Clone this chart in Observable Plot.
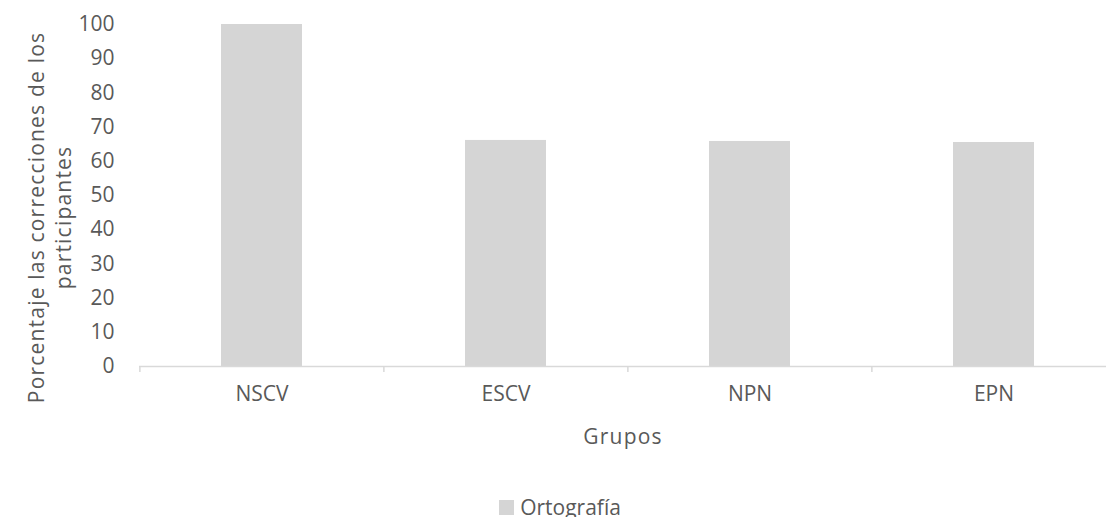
<!DOCTYPE html>
<html>
<head>
<meta charset="utf-8">
<script src="https://cdn.jsdelivr.net/npm/d3@7"></script>
<script src="https://cdn.jsdelivr.net/npm/@observablehq/plot@0.6"></script>
<style>
  html, body { margin: 0; padding: 0; background: #fff; overflow: hidden; width: 1106px; height: 517px; }
  #legend { font-family: "Open Sans", sans-serif; font-size: 21px; color: #595959; display: flex; justify-content: center; align-items: center; height: 28px; }
  #legend .sw { display: inline-block; width: 15px; height: 15px; background: #d5d5d5; margin-right: 6px; margin-left: 14px; }
  .ytitle text, .xtitle text { letter-spacing: 1.2px; }
</style>
</head>
<body>
<div id="chart"></div>
<div id="legend"></div>
<script>
const groups = ["NSCV", "ESCV", "NPN", "EPN"];
const ortografia = [100, 66.1, 65.8, 65.5];
const yTicks = [0, 10, 20, 30, 40, 50, 60, 70, 80, 90, 100];
const seriesName = "Ortografía";
const xTitle = "Grupos";
const yTitle = "Porcentaje las correcciones de los\nparticipantes";

const data = groups.map((g, i) => ({group: g, value: ortografia[i]}));

const W = 1106, H = 493;
const xRange = [139, 1116];
const step = (xRange[1] - xRange[0]) / groups.length;
const textColor = "#595959";

const chart = Plot.plot({
  width: W,
  height: H,
  marginTop: 24,
  marginBottom: 127,
  marginLeft: 139,
  marginRight: 0,
  style: {fontFamily: "'Open Sans', sans-serif", fontSize: "21px", color: textColor, background: "#fff", overflow: "visible"},
  x: {domain: groups, range: xRange, paddingInner: 0.668, paddingOuter: 0.334},
  y: {domain: [0, 100]},
  marks: [
    Plot.barY(data, {x: "group", y: "value", fill: "#d5d5d5"}),
    Plot.ruleY([0], {stroke: "#d9d9d9", strokeWidth: 1.5}),
    Plot.ruleX(groups, {x: d => d, y1: 0, y2: 0, dx: -step / 2, insetBottom: -6, stroke: "#d9d9d9", strokeWidth: 1.5}),
    Plot.axisX({tickSize: 0, tickPadding: 20, label: null, fill: textColor}),
    Plot.axisY({ticks: yTicks, tickSize: 0, tickPadding: 25, label: null, fill: textColor}),
    Plot.text([xTitle], {className: "xtitle", frameAnchor: "bottom", textAnchor: "middle", lineAnchor: "middle", dy: 71, text: d => d, fill: textColor}),
    Plot.text([yTitle], {className: "ytitle", frameAnchor: "left", textAnchor: "middle", lineAnchor: "middle", dx: -90.5, dy: 22, rotate: -90, lineHeight: 1.3, text: d => d, fill: textColor})
  ]
});
document.getElementById("chart").appendChild(chart);

const lg = document.getElementById("legend");
const sw = document.createElement("span"); sw.className = "sw";
const tx = document.createElement("span"); tx.textContent = seriesName;
lg.appendChild(sw); lg.appendChild(tx);
</script>
</body>
</html>
